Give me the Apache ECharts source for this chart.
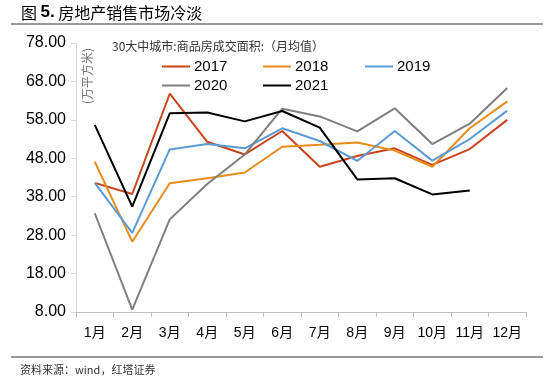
<!DOCTYPE html>
<html><head><meta charset="utf-8">
<script src="https://cdn.jsdelivr.net/npm/echarts@6/dist/echarts.min.js"></script>
<style>html,body{margin:0;padding:0;background:#fff}#c{width:554px;height:380px}</style>
</head><body><div id="c"></div>
<script>
const months = ['1月','2月','3月','4月','5月','6月','7月','8月','9月','10月','11月','12月'];
const years = ['2017','2018','2019','2020','2021'];
const s2017 = [41.6, 38.7, 64.8, 52.3, 49.0, 55.1, 45.8, 48.6, 50.6, 46.3, 50.4, 58.0];
const s2018 = [47.1, 26.3, 41.5, 42.8, 44.3, 51.0, 51.5, 52.1, 50.0, 45.8, 55.8, 62.8];
const s2019 = [41.6, 28.6, 50.3, 51.7, 50.6, 55.8, 52.5, 47.3, 55.1, 47.4, 53.0, 60.4];
const s2020 = [33.7, 8.6, 32.1, 41.3, 49.0, 60.9, 58.9, 55.0, 61.0, 51.7, 57.0, 66.3];
const s2021 = [56.7, 35.4, 59.7, 59.9, 57.6, 60.3, 56.0, 42.5, 42.8, 38.6, 39.6, null];
const yTicks = {min: 8, max: 78, step: 10};

const seriesData = [s2017, s2018, s2019, s2020, s2021];
const colors = ['#C9431D', '#E98B1C', '#5B9BD5', '#7F7F7F', '#000000'];
const legendPos = [[162,59],[263,59],[365,59],[162,78],[263,78]];

const chart = echarts.init(document.getElementById('c'), null, {renderer:'canvas'});
chart.setOption({
  animation: false,
  backgroundColor: '#fff',
  grid: {left: 76, right: 28, top: 43, bottom: 68},
  legend: years.map((y, i) => ({
    data: [y], left: legendPos[i][0], top: legendPos[i][1],
    icon: 'rect', itemWidth: 28, itemHeight: 2, itemGap: 0,
    padding: 0,
    textStyle: {fontFamily: 'Arial, Liberation Sans', fontSize: 15, color: '#000', padding: [0,0,0,-1]}
  })),
  xAxis: {
    type: 'category', data: months, boundaryGap: true,
    axisLine: {lineStyle: {color: '#BFBFBF', width: 1}},
    axisTick: {show: true, alignWithLabel: false, length: 5, lineStyle: {color: '#BFBFBF'}},
    axisLabel: {interval: 0, fontFamily: 'Arial, Liberation Sans, Noto Sans CJK SC', fontSize: 14, color: '#000', margin: 14}
  },
  yAxis: {
    type: 'value', min: yTicks.min, max: yTicks.max, interval: yTicks.step,
    splitLine: {show: false},
    axisLine: {show: true, lineStyle: {color: '#D9D9D9', width: 1}},
    axisTick: {show: true, length: 5, lineStyle: {color: '#D9D9D9'}},
    axisLabel: {fontFamily: 'Arial, Liberation Sans', fontSize: 16, color: '#000', margin: 10,
      formatter: v => v.toFixed(2)}
  },
  series: years.map((y, i) => ({
    name: y, type: 'line', data: seriesData[i], symbol: 'none', showSymbol: false,
    lineStyle: {color: colors[i], width: 2}, itemStyle: {color: colors[i]},
    connectNulls: false
  })),
  graphic: [
    {type: 'text', left: 21, top: 4, style: {
      text: '{a|图 }{b|5.}{a| 房地产销售市场冷淡}',
      rich: {
        a: {fontFamily: 'Noto Sans CJK SC', fontSize: 16, fill: '#000'},
        b: {fontFamily: 'Arial, Liberation Sans', fontWeight: 'bold', fontSize: 17, fill: '#000'}
      }}},
    {type: 'rect', shape: {x: 11, y: 23, width: 532, height: 2}, style: {fill: '#9A9A9A'}},
    {type: 'rect', shape: {x: 11, y: 356, width: 532, height: 2}, style: {fill: '#9A9A9A'}},
    {type: 'text', left: 20, top: 364, style: {text: '资料来源：wind，红塔证券',
      fontFamily: 'Noto Sans CJK SC', fontSize: 11, fill: '#333'}},
    {type: 'text', left: 112, top: 40, style: {text: '30大中城市:商品房成交面积:（月均值）',
      fontFamily: 'Noto Sans CJK SC', fontSize: 12, fill: '#333'}},
    {type: 'text', x: 87, y: 76, rotation: Math.PI/2, style: {text: '(万平方米)',
      fontFamily: 'Noto Sans CJK SC', fontSize: 12, fill: '#777', align: 'center', verticalAlign: 'middle'}}
  ]
});
</script></body></html>
